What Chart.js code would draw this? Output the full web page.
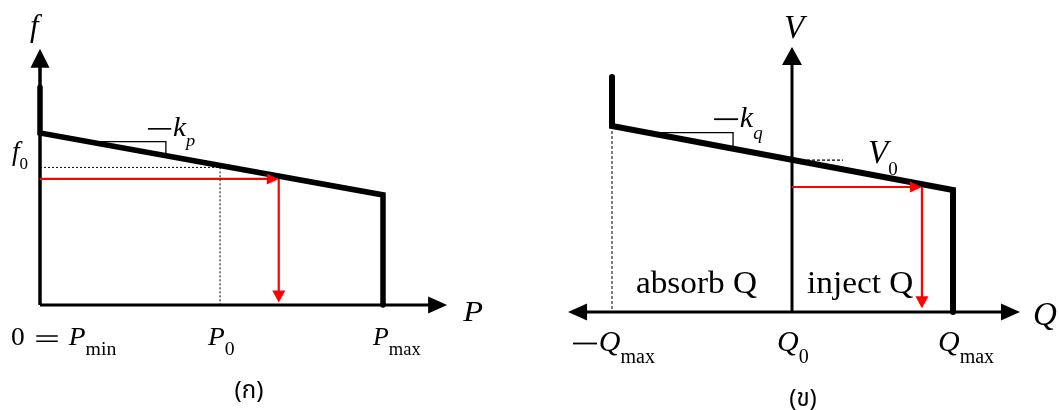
<!DOCTYPE html>
<html>
<head>
<meta charset="utf-8">
<title>Droop characteristics</title>
<script src="https://cdn.jsdelivr.net/npm/chart.js@4.4.1/dist/chart.umd.min.js"></script>
<style>
  html, body { margin: 0; padding: 0; background: #fff; }
  #wrap { position: relative; width: 1059px; height: 410px; overflow: hidden; background: #fff; }
  canvas { position: absolute; top: 0; }
  #pf { left: 0; }
  #qv { left: 530px; }
</style>
</head>
<body>
<div id="wrap">
  <canvas id="pf" width="530" height="410"></canvas>
  <canvas id="qv" width="529" height="410"></canvas>
</div>
<script>
// ---------- (ก) P–f droop ----------
const pfDroopP = [0, 0, 1, 1];
const pfDroopF = [1.266, 1.0, 0.64, 0];
const pfF0 = 0.8;
const pfP0 = 0.525;
const pfGuideP = [0, pfP0, pfP0];
const pfGuideF = [pfF0, pfF0, 0];
const pfOpP = 0.696;
const pfOpF = 0.733;
const pfArrowHP = [0, pfOpP];
const pfArrowHF = [pfOpF, pfOpF];
const pfArrowVP = [pfOpP, pfOpP];
const pfArrowVF = [pfOpF, 0.015];
const pfSlopeP = [0.14, 0.367, 0.367];
const pfSlopeF = [0.95, 0.95, 0.868];
const pfAxisTop = 1.49;
const pfAxisEnd = 1.187;
const pfTickValues = [0, pfP0, 1];
const pfTickLabels = [
  [['0', 'rm'], ['', 'eq'], ['P', 'it'], ['min', 'sub']],
  [['P', 'it'], ['0', 'sub']],
  [['P', 'it'], ['max', 'sub']]
];

// ---------- (ข) Q–V droop ----------
const qvDroopQ = [-1.118, -1.118, 1, 1];
const qvDroopV = [1.263, 1.0, 0.656, 0];
const qvLimitQ = [-1.118, -1.118];
const qvLimitV = [1.0, 0];
const qvV0 = 0.817;
const qvGuideQ = [0, 0.317];
const qvGuideV = [qvV0, qvV0];
const qvOpQ = 0.807;
const qvOpV = 0.672;
const qvArrowHQ = [0, qvOpQ];
const qvArrowHV = [qvOpV, qvOpV];
const qvArrowVQ = [qvOpQ, qvOpQ];
const qvArrowVV = [qvOpV, 0.02];
const qvSlopeQ = [-0.894, -0.366, -0.366];
const qvSlopeV = [0.964, 0.964, 0.88];
const qvAxisTop = 1.425;
const qvAxisLeft = -1.391;
const qvAxisRight = 1.416;
const qvTickValues = [-1.118, 0, 1];
const qvTickLabels = [
  [['', 'minus'], ['Q', 'it'], ['max', 'sub']],
  [['Q', 'it'], ['0', 'sub']],
  [['Q', 'it'], ['max', 'sub']]
];

// ---------- drawing helpers ----------
const SERIF = '"Liberation Serif", "DejaVu Serif", serif';
const SANS = '"Noto Sans", "Noto Sans Thai", "DejaVu Sans", sans-serif';

function fontFor(kind, lab) {
  const isSub = kind === 'sub' || kind === 'subit';
  const size = isSub ? lab.sub : lab.size;
  if (kind === 'it' || kind === 'subit') return 'italic ' + size + 'px ' + SERIF;
  if (kind === 'thai') return size + 'px ' + SANS;
  return size + 'px ' + SERIF;
}

function partWidth(ctx, text, kind, lab) {
  const s = lab.size;
  if (kind === 'minus') return 0.86 * s;
  if (kind === 'eq') return 1.6 * s;
  ctx.font = fontFor(kind, lab);
  return ctx.measureText(text).width;
}

function labelWidth(ctx, lab) {
  let w = 0;
  for (const [t, k] of lab.parts) w += partWidth(ctx, t, k, lab);
  return w;
}

function drawParts(ctx, lab) {
  const s = lab.size;
  const rule = Math.max(1.3, s * 0.06);
  let cx = 0;
  for (const [t, k] of lab.parts) {
    const w = partWidth(ctx, t, k, lab);
    if (k === 'minus') {
      ctx.fillRect(cx, -0.25 * s - rule / 2, 0.8 * s, rule);
    } else if (k === 'eq') {
      const x0 = cx + 0.42 * s, ww = 0.78 * s;
      ctx.fillRect(x0, -0.36 * s - rule / 2, ww, rule);
      ctx.fillRect(x0, -0.15 * s - rule / 2, ww, rule);
    } else {
      const isSub = k === 'sub' || k === 'subit';
      ctx.font = fontFor(k, lab);
      ctx.fillText(t, cx + (isSub ? (lab.kern || 0) : 0), isSub ? lab.drop : 0);
    }
    cx += w;
  }
}

function textPlugin(labels) {
  return {
    id: 'diagramText',
    afterDraw(chart) {
      const ctx = chart.ctx, xs = chart.scales.x, ys = chart.scales.y;
      ctx.save();
      ctx.fillStyle = '#000';
      ctx.textBaseline = 'alphabetic';
      ctx.textAlign = 'left';
      for (const lab of labels) {
        let x, y;
        if (lab.at) {
          x = xs.getPixelForValue(lab.at[0]) + (lab.dx || 0);
          y = ys.getPixelForValue(lab.at[1]) + (lab.dy || 0);
        } else {
          x = lab.px; y = lab.py;
        }
        const sx = lab.sx || 1;
        const w = labelWidth(ctx, lab) * sx;
        if (lab.align === 'center') x -= w / 2;
        else if (lab.align === 'right') x -= w;
        ctx.save();
        ctx.translate(x, y);
        ctx.scale(sx, 1);
        drawParts(ctx, lab);
        ctx.restore();
      }
      ctx.restore();
    }
  };
}

// Arrowheads: pull the line end back under the head, then fill the head at the data point.
const arrowHeads = {
  id: 'arrowHeads',
  beforeDatasetDraw(chart, args) {
    const ds = chart.data.datasets[args.index];
    if (!ds.arrow) return;
    const pts = args.meta.data;
    const pull = ds.arrow.size[0] * 0.6;
    const shift = (a, b) => {
      const d = Math.hypot(a.x - b.x, a.y - b.y) || 1;
      a._tip = { x: a.x, y: a.y };
      a.x -= (a.x - b.x) / d * pull;
      a.y -= (a.y - b.y) / d * pull;
    };
    if (ds.arrow.end) shift(pts[pts.length - 1], pts[pts.length - 2]);
    if (ds.arrow.start) shift(pts[0], pts[1]);
    args.meta.dataset._path = undefined;
  },
  afterDatasetDraw(chart, args) {
    const ds = chart.data.datasets[args.index];
    if (!ds.arrow) return;
    const ctx = chart.ctx;
    const pts = args.meta.data;
    const [len, wid] = ds.arrow.size;
    const head = (p, from) => {
      const tip = p._tip || p;
      const ang = Math.atan2(tip.y - from.y, tip.x - from.x);
      ctx.save();
      ctx.translate(tip.x, tip.y);
      ctx.rotate(ang);
      ctx.beginPath();
      ctx.moveTo(0, 0);
      ctx.lineTo(-len, -wid / 2);
      ctx.lineTo(-len, wid / 2);
      ctx.closePath();
      ctx.fillStyle = ds.borderColor;
      ctx.fill();
      ctx.restore();
      if (p._tip) { p.x = p._tip.x; p.y = p._tip.y; delete p._tip; }
    };
    if (ds.arrow.end) head(pts[pts.length - 1], pts[pts.length - 2]);
    if (ds.arrow.start) head(pts[0], pts[1]);
  }
};

function series(xs, ys, style) {
  return Object.assign({
    data: xs.map((x, i) => ({ x: x, y: ys[i] })),
    showLine: true,
    fill: false,
    pointRadius: 0,
    pointHoverRadius: 0,
    borderColor: '#000',
    borderWidth: 1,
    borderCapStyle: 'butt',
    borderJoinStyle: 'miter',
    tension: 0
  }, style);
}

// Scale limits so that the origin sits at (ox, oy) on the canvas with kx, ky pixels per unit.
function frame(canvas, ox, oy, kx, ky) {
  return {
    xmin: -ox / kx, xmax: (canvas.width - ox) / kx,
    ymin: -(canvas.height - oy) / ky, ymax: oy / ky
  };
}

function makeChart(canvas, datasets, fr, labels) {
  return new Chart(canvas, {
    type: 'scatter',
    data: { datasets: datasets },
    options: {
      responsive: false,
      animation: false,
      devicePixelRatio: 1,
      events: [],
      layout: { padding: 0 },
      plugins: { legend: { display: false }, tooltip: { enabled: false }, title: { display: false } },
      scales: {
        x: { type: 'linear', display: false, min: fr.xmin, max: fr.xmax },
        y: { type: 'linear', display: false, min: fr.ymin, max: fr.ymax }
      }
    },
    plugins: [arrowHeads, textPlugin(labels)]
  });
}

const RED = '#ff0000';

function build() {
  // ---------- chart (ก) ----------
  const pfCanvas = document.getElementById('pf');
  const pfFrame = frame(pfCanvas, 40, 305, 343, 172);
  const pfSets = [
    series(pfArrowHP, pfArrowHF, { borderColor: RED, borderWidth: 2.2, order: 0, arrow: { end: true, size: [12, 11] } }),
    series(pfArrowVP, pfArrowVF, { borderColor: RED, borderWidth: 2.2, order: 0, arrow: { end: true, size: [12, 13] } }),
    series(pfDroopP, pfDroopF, { borderWidth: 5.5, borderCapStyle: 'round', order: 1 }),
    series(pfSlopeP, pfSlopeF, { borderWidth: 1.3, order: 2 }),
    series(pfGuideP, pfGuideF, { borderWidth: 1, borderDash: [2, 2], order: 3 }),
    series([0, 0], [0, pfAxisTop], { borderWidth: 3.5, order: 4, arrow: { end: true, size: [19, 19] } }),
    series([0, pfAxisEnd], [0, 0], { borderWidth: 3, order: 4, arrow: { end: true, size: [19, 17] } })
  ];
  const pfText = [
    { parts: [['f', 'it']], at: [0, pfAxisTop], dx: -10, dy: -13, size: 31 },
    { parts: [['P', 'it']], at: [pfAxisEnd, 0], dx: 16, dy: 16, size: 30, sx: 1.08 },
    { parts: [['f', 'it'], ['0', 'sub']], at: [0, pfF0], dx: -28, dy: -7, size: 27, sub: 17, drop: 9 },
    { parts: [['', 'minus'], ['k', 'it'], ['p', 'subit']], at: [pfSlopeP[1], pfSlopeF[1]], dx: -18, dy: -6, size: 27, sub: 17, drop: 10, sx: 1.08 },
    { parts: [['(ก)', 'thai']], px: 249, py: 398, align: 'center', size: 24 }
  ];
  const pfTickDx = [-29, -12, -10];
  const pfTickSx = [1.1, 1.1, 1.03];
  pfTickValues.forEach((v, i) => {
    pfText.push({ parts: pfTickLabels[i], at: [v, 0], dx: pfTickDx[i], dy: 40, size: 25, sub: 18, drop: 10, sx: pfTickSx[i] });
  });
  makeChart(pfCanvas, pfSets, pfFrame, pfText);

  // ---------- chart (ข) ----------
  const qvCanvas = document.getElementById('qv');
  const qvFrame = frame(qvCanvas, 262, 312, 161, 186);
  const qvSets = [
    series(qvArrowHQ, qvArrowHV, { borderColor: RED, borderWidth: 2.2, order: 0, arrow: { end: true, size: [12, 11] } }),
    series(qvArrowVQ, qvArrowVV, { borderColor: RED, borderWidth: 2.2, order: 0, arrow: { end: true, size: [12, 13] } }),
    series(qvDroopQ, qvDroopV, { borderWidth: 6, borderCapStyle: 'round', order: 1 }),
    series(qvSlopeQ, qvSlopeV, { borderWidth: 1.3, order: 2 }),
    series(qvGuideQ, qvGuideV, { borderWidth: 1.3, borderDash: [3, 2], order: 3 }),
    series(qvLimitQ, qvLimitV, { borderWidth: 1, borderDash: [3, 2], order: 3 }),
    series([0, 0], [0, qvAxisTop], { borderWidth: 3, order: 4, arrow: { end: true, size: [18, 20] } }),
    series([qvAxisLeft, qvAxisRight], [0, 0], { borderWidth: 3, order: 4, arrow: { start: true, end: true, size: [19, 17] } })
  ];
  const qvText = [
    { parts: [['V', 'it']], at: [0, qvAxisTop], dx: -8, dy: -9, size: 33 },
    { parts: [['Q', 'it']], at: [qvAxisRight, 0], dx: 13, dy: 13, size: 33 },
    { parts: [['', 'minus'], ['k', 'it'], ['q', 'subit']], at: [qvSlopeQ[1], qvSlopeV[1]], dx: -19, dy: -6, size: 30, sub: 19, drop: 12 },
    { parts: [['V', 'it'], ['0', 'sub']], at: [qvGuideQ[1], qvV0], dx: 25, dy: 3, size: 33, sub: 19, drop: 12 },
    { parts: [['absorb Q', 'rm']], at: [0, 0], dx: -35, dy: -19, align: 'right', size: 32, sx: 1.04 },
    { parts: [['inject Q', 'rm']], at: [0, 0], dx: 15, dy: -19, size: 32, sx: 1.04 },
    { parts: [['(ข)', 'thai']], px: 273, py: 406, align: 'center', size: 24 }
  ];
  const qvTickDx = [-39, -15, -15];
  qvTickValues.forEach((v, i) => {
    qvText.push({ parts: qvTickLabels[i], at: [v, 0], dx: qvTickDx[i], dy: 39, size: 30, sub: 20, drop: 12 });
  });
  makeChart(qvCanvas, qvSets, qvFrame, qvText);
}

// Make sure the serif faces are ready before the canvases are painted.
Promise.all([
  document.fonts.load('30px "Liberation Serif"', 'absorb Q0'),
  document.fonts.load('italic 30px "Liberation Serif"', 'fPQVkpq'),
  document.fonts.load('24px "Noto Sans"', '(ก)')
]).catch(() => {}).then(build);
</script>
</body>
</html>
